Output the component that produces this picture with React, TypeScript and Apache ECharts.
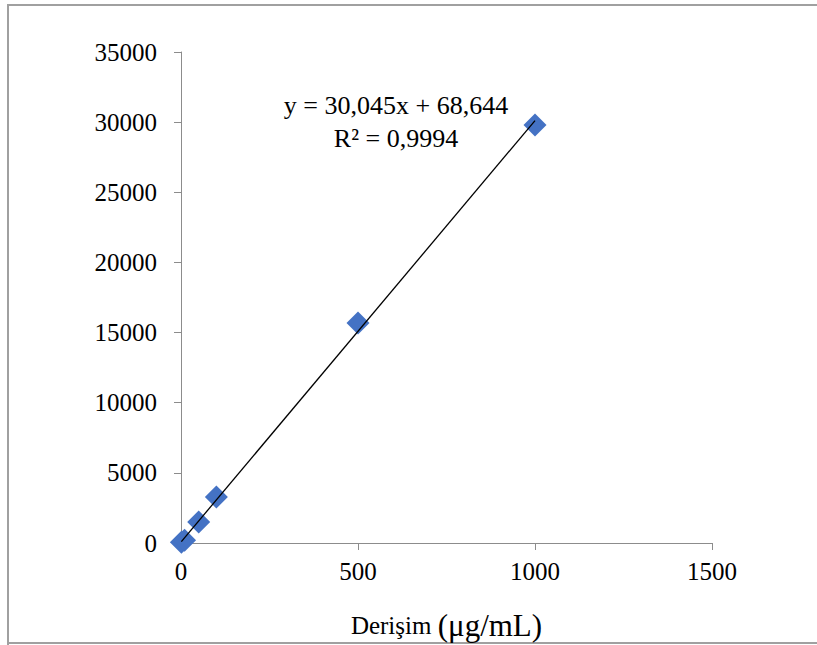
import React, { useEffect, useRef } from "react";
import * as echarts from "echarts";

const concentrations = [1, 10, 50, 100, 500, 1000];
const areas = [60, 200, 1500, 3280, 15680, 29800];
const trendX = [1, 1000];
const trendY = [99, 30114];
const equationLine = "y = 30,045x + 68,644";
const r2Line = "R² = 0,9994";
const xTitle = "Derişim";
const xUnit = "(μg/mL)";

const FONT = '"Liberation Serif", "Times New Roman", serif';

export default function App() {
  const ref = useRef<HTMLDivElement>(null);
  useEffect(() => {
    if (!ref.current) return;
    const chart = echarts.init(ref.current, null, { renderer: "svg" });
    chart.setOption({
      animation: false,
      backgroundColor: "#ffffff",
      grid: {
        left: 181,
        top: 52,
        width: 531,
        height: 491,
        containLabel: false,
        outerBoundsMode: "none",
      },
      xAxis: {
        type: "value",
        min: 0,
        max: 1500,
        interval: 500,
        splitLine: { show: false },
        axisLine: { lineStyle: { color: "#8c8c8c", width: 1 } },
        axisTick: { show: true, length: 7, lineStyle: { color: "#8c8c8c" } },
        axisLabel: {
          color: "#000",
          fontFamily: FONT,
          fontSize: 25,
          margin: 16,
          formatter: (v: number) => String(v),
        },
        name: `{a|${xTitle} }{b|${xUnit}}`,
        nameLocation: "middle",
        nameGap: 67,
        nameTextStyle: {
          rich: {
            a: { fontFamily: FONT, fontSize: 25, color: "#000" },
            b: { fontFamily: FONT, fontSize: 31, color: "#000" },
          },
        },
      },
      yAxis: {
        type: "value",
        min: 0,
        max: 35000,
        interval: 5000,
        splitLine: { show: false },
        axisLine: { show: true, lineStyle: { color: "#8c8c8c", width: 1 } },
        axisTick: { show: true, length: 7, lineStyle: { color: "#8c8c8c" } },
        axisLabel: {
          color: "#000",
          fontFamily: FONT,
          fontSize: 25,
          margin: 24,
          formatter: (v: number) => String(v),
        },
      },
      series: [
        {
          type: "line",
          data: trendX.map((x, i) => [x, trendY[i]]),
          showSymbol: false,
          symbol: "none",
          lineStyle: { color: "#000", width: 1.3 },
          z: 3,
        },
        {
          type: "scatter",
          data: concentrations.map((x, i) => [x, areas[i]]),
          symbol: "diamond",
          symbolSize: 23,
          itemStyle: { color: "#4472C4", opacity: 1 },
          z: 2,
        },
      ],
      graphic: [
        {
          type: "text",
          x: 396,
          y: 89,
          style: {
            text: equationLine + "\n" + r2Line,
            fontFamily: FONT,
            fontSize: 26,
            lineHeight: 33,
            fill: "#000",
            align: "center",
            verticalAlign: "top",
          },
        },
        {
          type: "polyline",
          shape: { points: [[8, 645], [8, 5], [817, 5]] },
          style: { stroke: "#a0a0a0", lineWidth: 2, fill: "none" },
        },
        {
          type: "line",
          shape: { x1: 8, y1: 643, x2: 817, y2: 643 },
          style: { stroke: "#a0a0a0", lineWidth: 2 },
        },
      ],
    });
    return () => chart.dispose();
  }, []);
  return (
    <div
      ref={ref}
      style={{ position: "absolute", left: 0, top: 0, width: 817, height: 645 }}
    />
  );
}
